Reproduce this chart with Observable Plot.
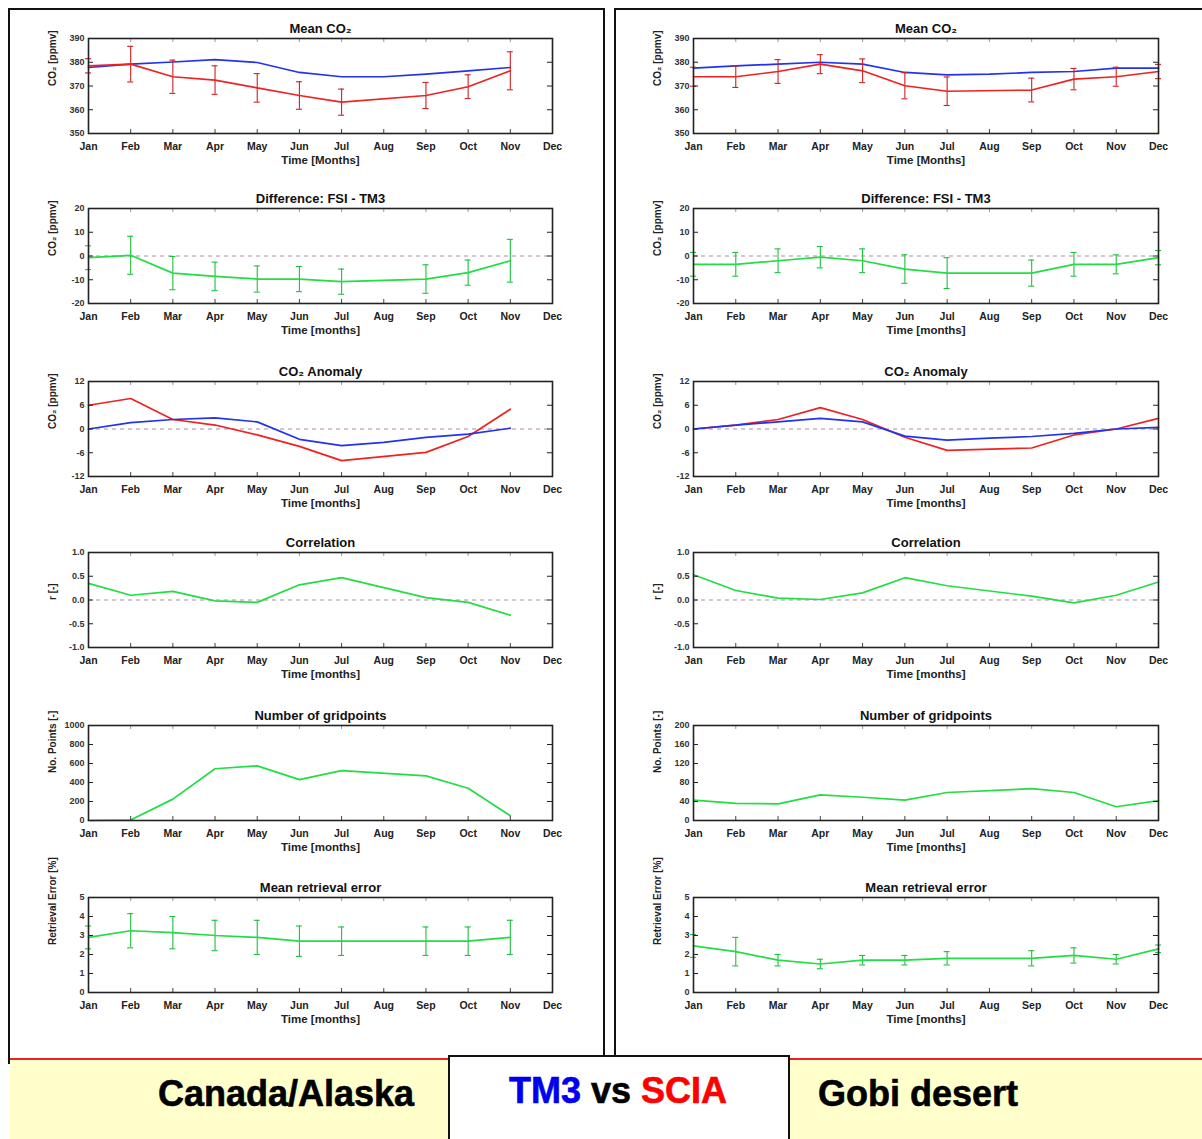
<!DOCTYPE html>
<html><head><meta charset="utf-8">
<script src="https://cdn.jsdelivr.net/npm/d3@7"></script>
<script src="https://cdn.jsdelivr.net/npm/@observablehq/plot@0.6"></script>
<style>
body{margin:0;background:#fff;font-family:"Liberation Sans",Arial,sans-serif}
#page{position:relative;width:1202px;height:1139px;overflow:hidden;background:#fff}
.box{position:absolute;box-sizing:border-box;border:2px solid #111}
.panel{position:absolute}
.band{position:absolute;box-sizing:border-box;background:#ffffcc;border-top:2px solid #ee2222}
.mid{position:absolute;box-sizing:border-box;background:#fff;border:2px solid #111}
.big{position:absolute;font-family:"Liberation Sans",Arial,sans-serif;font-weight:bold;font-size:36px;white-space:nowrap;line-height:1;-webkit-text-stroke:0.6px currentColor}
</style></head>
<body><div id="page"></div>
<script>
// ---------- data ----------
const months = ["Jan","Feb","Mar","Apr","May","Jun","Jul","Aug","Sep","Oct","Nov","Dec"];
const monthIdx = [1,2,3,4,5,6,7,8,9,10,11,12];

// Canada/Alaska (Jan..Nov)
const caTm3Mean     = [377.8,379.2,380.1,381.1,379.9,375.7,373.9,373.9,375.0,376.4,377.8];
const caSciaMean    = [378.5,379.2,373.9,372.5,369.2,366.0,363.2,null,366.0,369.7,376.4];
const caSciaMeanErr = [3,7.5,7,6,6,5.8,5.5,null,5.5,5,8];
const caDiff        = [-0.7,0.3,-7.2,-8.6,-9.7,-9.7,-10.8,null,-9.7,-7.0,-2.0];
const caDiffErr     = [5,8,7,6,5.5,5.3,5.3,null,6,5.3,9];
const caTm3Anom     = [0,1.6,2.4,2.8,1.8,-2.6,-4.2,-3.4,-2.1,-1.3,0.2];
const caSciaAnom    = [6,7.7,2.4,1.0,-1.5,-4.4,-8,null,-5.9,-1.9,5];
const caCorr        = [0.35,0.1,0.18,-0.02,-0.05,0.32,0.47,null,0.05,-0.05,-0.32];
const caCount       = [0,5,225,545,575,430,525,null,470,340,50];
const caErr         = [2.9,3.25,3.15,3.0,2.9,2.7,2.7,null,2.7,2.7,2.9];
const caErrErr      = [0.6,0.9,0.85,0.8,0.9,0.8,0.75,null,0.75,0.75,0.9];

// Gobi desert (Jan..Dec)
const gbTm3Mean     = [377.5,378.5,379.2,380.0,379.2,375.7,374.7,375.0,375.7,376.1,377.5,377.5];
const gbSciaMean    = [373.9,373.9,376.1,379.2,376.4,370.1,367.8,null,368.3,372.9,373.9,376.1];
const gbSciaMeanErr = [4,4.5,5,4,5,5.5,6,null,5,4.5,4,3];
const gbDiff        = [-3.5,-3.5,-2,-0.5,-2,-5.5,-7.2,null,-7.2,-3.5,-3.5,-0.7];
const gbDiffErr     = [5,5,5,4.5,5,6,6.5,null,5.5,5,4,3];
const gbTm3Anom     = [0,1.0,1.8,2.7,1.8,-1.8,-2.8,-2.3,-1.9,-1.1,0,0.4];
const gbSciaAnom    = [0,1.0,2.4,5.4,2.4,-2.1,-5.4,null,-4.8,-1.5,0,2.7];
const gbCorr        = [0.53,0.2,0.04,0.01,0.15,0.47,0.3,null,0.08,-0.06,0.1,0.38];
const gbCount       = [43,36,35,54,49,43,59,null,67,59,29,42];
const gbErr         = [2.45,2.15,1.7,1.5,1.7,1.7,1.8,null,1.8,1.95,1.75,2.3];
const gbErrErr      = [0.6,0.75,0.3,0.25,0.25,0.25,0.35,null,0.4,0.4,0.25,0.2];

// tick labels
const ticksMean  = [350,360,370,380,390];
const ticksDiff  = [-20,-10,0,10,20];
const ticksAnom  = [-12,-6,0,6,12];
const ticksCorr  = [-1,-0.5,0,0.5,1];
const ticksCountCA = [0,200,400,600,800,1000];
const ticksCountGB = [0,40,80,120,160,200];
const ticksErr   = [0,1,2,3,4,5];

// ---------- styling ----------
const BLUE = "#2233ee", RED = "#ee2222", GREEN = "#22dd44";
const RED_E = "#d02020", GREEN_E = "#1fbf3f", ZERO = "#b08aa8";
const FH = 95, MT = 30, MB = 45;

function series(vals, errs) {
  return vals.map((v, i) => ({x: i + 1, y: v, e: errs ? errs[i] : null})).filter(d => d.y != null);
}

function panel(col, cfg) {
  const fw = col.width - col.mLeft - col.mRight;
  const marks = [];
  if (cfg.zero) marks.push(Plot.ruleY([0], {stroke: ZERO, strokeDasharray: "4,4", strokeWidth: 1.2}));
  for (const s of cfg.lines) {
    const data = series(s.vals, s.errs);
    if (s.errs) {
      marks.push(Plot.ruleX(data, {x: "x", y1: d => d.y - d.e, y2: d => d.y + d.e, stroke: s.errColor, strokeWidth: 1.1}));
      marks.push(Plot.ruleY(data, {x1: "x", x2: "x", y: d => d.y - d.e, insetLeft: -3, insetRight: -3, stroke: s.errColor, strokeWidth: 1.1}));
      marks.push(Plot.ruleY(data, {x1: "x", x2: "x", y: d => d.y + d.e, insetLeft: -3, insetRight: -3, stroke: s.errColor, strokeWidth: 1.1}));
    }
    marks.push(Plot.line(data, {x: "x", y: "y", stroke: s.color, strokeWidth: 1.7}));
  }
  // inward ticks
  marks.push(Plot.tickY(cfg.ticks, {y: d => d, insetRight: fw - 5, stroke: "#222"}));
  marks.push(Plot.tickY(cfg.ticks, {y: d => d, insetLeft: fw - 5, stroke: "#222"}));
  marks.push(Plot.tickX(monthIdx, {x: d => d, insetTop: FH - 4, stroke: "#444"}));
  marks.push(Plot.tickX(monthIdx, {x: d => d, insetBottom: FH - 4, stroke: "#999"}));
  marks.push(Plot.frame({stroke: "#222", strokeWidth: 1.6}));
  marks.push(Plot.axisY(cfg.ticks, {tickSize: 0, tickPadding: 4, fontSize: 9, fontWeight: "bold", fill: "#333", tickFormat: cfg.fmt || (d => String(d)), label: null}));
  marks.push(Plot.axisX(monthIdx, {tickSize: 0, tickPadding: 9, fontSize: 10.5, fontWeight: "bold", fill: "#222", tickFormat: d => months[d - 1], label: null}));
  marks.push(Plot.text([cfg.title], {text: d => d, frameAnchor: "top", dy: -15, fontSize: 13, fontWeight: "bold", fill: "#111"}));
  marks.push(Plot.text([cfg.xlabel || "Time [months]"], {text: d => d, frameAnchor: "bottom", dy: 30, fontSize: 11.5, fontWeight: "bold", fill: "#222"}));
  marks.push(Plot.text([cfg.ylabel], {text: d => d, frameAnchor: "left", dx: -36, rotate: -90, fontSize: 10, fontWeight: "bold", fill: "#222"}));
  const svg = Plot.plot({
    width: col.width, height: MT + FH + MB,
    marginLeft: col.mLeft, marginRight: col.mRight, marginTop: MT, marginBottom: MB,
    x: {domain: [1, 12]},
    y: {domain: cfg.domain},
    style: {fontFamily: "'Liberation Sans', Arial, sans-serif", background: "transparent", overflow: "visible"},
    marks
  });
  svg.classList.add("panel");
  svg.style.position = "absolute";
  svg.style.left = col.left + "px";
  svg.style.top = (cfg.frameTop - MT) + "px";
  return svg;
}

const page = document.getElementById("page");
function div(cls, css, html) {
  const d = document.createElement("div");
  d.className = cls;
  Object.assign(d.style, css);
  if (html) d.innerHTML = html;
  page.appendChild(d);
  return d;
}

// frames
div("box", {left: "8px", top: "8px", width: "597px", height: "1056px"});
div("box", {left: "614px", top: "8px", width: "600px", height: "1052px"});

const colL = {left: 10, width: 590, mLeft: 78, mRight: 48};
const colR = {left: 616, width: 584, mLeft: 77, mRight: 42};
const tops = [38, 208, 381, 552, 725, 897];
const fmtCorr = d => d.toFixed(1);

const defs = (tm3Mean, sciaMean, sciaMeanErr, diff, diffErr, tm3Anom, sciaAnom, corr, count, countTicks, err, errErr) => [
  {title: "Mean CO₂", xlabel: "Time [Months]", ylabel: "CO₂ [ppmv]", domain: [350, 390], ticks: ticksMean,
   lines: [{vals: tm3Mean, color: BLUE}, {vals: sciaMean, errs: sciaMeanErr, color: RED, errColor: RED_E}]},
  {title: "Difference: FSI - TM3", ylabel: "CO₂ [ppmv]", domain: [-20, 20], ticks: ticksDiff, zero: true,
   lines: [{vals: diff, errs: diffErr, color: GREEN, errColor: GREEN_E}]},
  {title: "CO₂ Anomaly", ylabel: "CO₂ [ppmv]", domain: [-12, 12], ticks: ticksAnom, zero: true,
   lines: [{vals: sciaAnom, color: RED}, {vals: tm3Anom, color: BLUE}]},
  {title: "Correlation", ylabel: "r [-]", domain: [-1, 1], ticks: ticksCorr, fmt: fmtCorr, zero: true,
   lines: [{vals: corr, color: GREEN}]},
  {title: "Number of gridpoints", ylabel: "No. Points [-]", domain: [countTicks[0], countTicks[countTicks.length - 1]], ticks: countTicks,
   lines: [{vals: count, color: GREEN}]},
  {title: "Mean retrieval error", ylabel: "Retrieval Error [%]", domain: [0, 5], ticks: ticksErr,
   lines: [{vals: err, errs: errErr, color: GREEN, errColor: GREEN_E}]}
];

const left = defs(caTm3Mean, caSciaMean, caSciaMeanErr, caDiff, caDiffErr, caTm3Anom, caSciaAnom, caCorr, caCount, ticksCountCA, caErr, caErrErr);
const right = defs(gbTm3Mean, gbSciaMean, gbSciaMeanErr, gbDiff, gbDiffErr, gbTm3Anom, gbSciaAnom, gbCorr, gbCount, ticksCountGB, gbErr, gbErrErr);
left.forEach((c, i) => page.appendChild(panel(colL, {...c, frameTop: tops[i]})));
right.forEach((c, i) => page.appendChild(panel(colR, {...c, frameTop: tops[i]})));

// bottom banner
div("band", {left: "10px", top: "1058px", width: "440px", height: "81px"});
div("band", {left: "788px", top: "1058px", width: "414px", height: "81px"});
div("mid", {left: "448px", top: "1055px", width: "342px", height: "90px"});
div("big", {left: "158px", top: "1076px"}, "Canada/Alaska");
div("big", {left: "509px", top: "1073px"}, '<span style="color:#0000ee">TM3</span> vs <span style="color:#ff0000">SCIA</span>');
div("big", {left: "818px", top: "1076px"}, "Gobi desert");
</script>
</body></html>
